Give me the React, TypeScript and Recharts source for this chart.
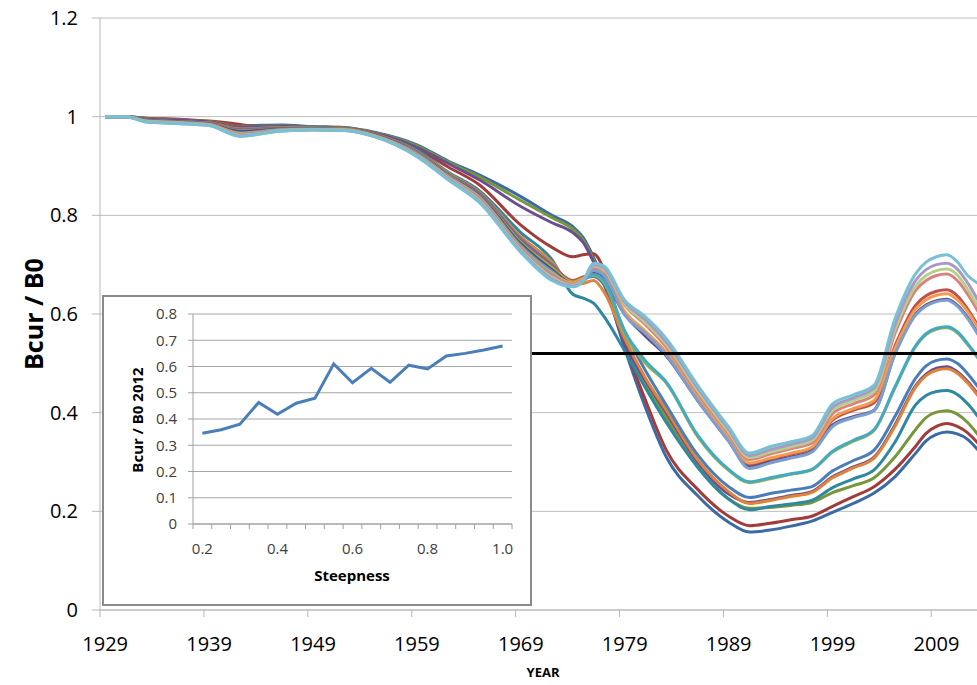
import { CartesianGrid, Line, LineChart, ReferenceLine, XAxis, YAxis } from "recharts";

const FONT = "'Open Sans', 'DejaVu Sans', sans-serif";

const YEARS = [1929, 1931, 1933, 1936, 1939, 1942, 1946, 1949, 1952, 1955, 1959, 1962, 1965, 1969, 1972, 1974, 1975, 1976, 1977, 1979, 1981, 1983, 1986, 1989, 1991, 1993, 1995, 1997, 1999, 2001, 2003, 2005, 2007, 2008, 2009, 2010, 2011, 2012, 2013];

// Bcur / B0 trajectories, one per steepness value
const H020 = [1, 1, 0.996, 0.994, 0.99, 0.982, 0.983, 0.98, 0.978, 0.968, 0.943, 0.91, 0.882, 0.838, 0.8, 0.777, 0.755, 0.715, 0.665, 0.53, 0.41, 0.31, 0.232, 0.178, 0.158, 0.162, 0.17, 0.18, 0.198, 0.216, 0.237, 0.27, 0.318, 0.343, 0.356, 0.361, 0.357, 0.346, 0.324];
const H025 = [1, 1, 0.997, 0.995, 0.991, 0.984, 0.972, 0.978, 0.977, 0.966, 0.935, 0.898, 0.862, 0.78, 0.735, 0.716, 0.72, 0.722, 0.69, 0.54, 0.425, 0.324, 0.245, 0.19, 0.171, 0.176, 0.183, 0.19, 0.21, 0.23, 0.25, 0.285, 0.332, 0.358, 0.372, 0.378, 0.372, 0.359, 0.338];
const H030 = [1, 1, 0.996, 0.993, 0.99, 0.98, 0.981, 0.979, 0.977, 0.967, 0.941, 0.908, 0.878, 0.83, 0.795, 0.772, 0.75, 0.71, 0.665, 0.545, 0.46, 0.39, 0.29, 0.225, 0.206, 0.208, 0.212, 0.218, 0.238, 0.252, 0.268, 0.31, 0.366, 0.39, 0.401, 0.404, 0.397, 0.38, 0.355];
const H035 = [1, 1, 0.995, 0.993, 0.989, 0.979, 0.98, 0.978, 0.976, 0.966, 0.938, 0.905, 0.872, 0.818, 0.785, 0.765, 0.745, 0.705, 0.66, 0.54, 0.465, 0.4, 0.3, 0.235, 0.218, 0.224, 0.232, 0.24, 0.27, 0.29, 0.31, 0.375, 0.455, 0.478, 0.49, 0.493, 0.483, 0.463, 0.437];
const H040 = [1, 1, 0.993, 0.99, 0.987, 0.975, 0.978, 0.977, 0.975, 0.964, 0.932, 0.888, 0.85, 0.765, 0.71, 0.64, 0.632, 0.622, 0.595, 0.525, 0.45, 0.38, 0.29, 0.225, 0.203, 0.21, 0.215, 0.222, 0.248, 0.266, 0.284, 0.34, 0.416, 0.435, 0.443, 0.445, 0.437, 0.418, 0.392];
const H045 = [1, 1, 0.993, 0.99, 0.987, 0.975, 0.978, 0.977, 0.975, 0.964, 0.93, 0.886, 0.847, 0.757, 0.705, 0.66, 0.662, 0.668, 0.645, 0.55, 0.47, 0.405, 0.305, 0.24, 0.216, 0.222, 0.23, 0.238, 0.268, 0.288, 0.308, 0.372, 0.452, 0.475, 0.486, 0.489, 0.48, 0.46, 0.434];
const H050 = [1, 1, 0.993, 0.99, 0.986, 0.974, 0.977, 0.976, 0.974, 0.963, 0.929, 0.884, 0.845, 0.752, 0.7, 0.665, 0.672, 0.676, 0.66, 0.565, 0.485, 0.415, 0.315, 0.25, 0.228, 0.236, 0.243, 0.25, 0.282, 0.303, 0.324, 0.392, 0.47, 0.495, 0.506, 0.509, 0.5, 0.479, 0.452];
const H055 = [1, 1, 0.992, 0.989, 0.986, 0.972, 0.976, 0.976, 0.974, 0.963, 0.928, 0.882, 0.843, 0.748, 0.697, 0.668, 0.675, 0.682, 0.668, 0.6, 0.56, 0.52, 0.428, 0.345, 0.295, 0.305, 0.316, 0.328, 0.385, 0.405, 0.42, 0.535, 0.618, 0.637, 0.646, 0.649, 0.637, 0.61, 0.576];
const H060 = [1, 1, 0.992, 0.989, 0.985, 0.971, 0.975, 0.975, 0.974, 0.962, 0.927, 0.881, 0.841, 0.745, 0.694, 0.665, 0.672, 0.678, 0.665, 0.56, 0.5, 0.46, 0.352, 0.283, 0.258, 0.266, 0.275, 0.284, 0.32, 0.342, 0.364, 0.45, 0.534, 0.558, 0.569, 0.572, 0.562, 0.538, 0.51];
const H065 = [1, 1, 0.992, 0.989, 0.985, 0.97, 0.975, 0.975, 0.973, 0.962, 0.926, 0.88, 0.84, 0.742, 0.69, 0.662, 0.67, 0.682, 0.672, 0.6, 0.555, 0.515, 0.425, 0.343, 0.29, 0.3, 0.31, 0.322, 0.375, 0.392, 0.405, 0.52, 0.6, 0.618, 0.627, 0.63, 0.618, 0.593, 0.56];
const H070 = [1, 1, 0.991, 0.988, 0.984, 0.967, 0.974, 0.975, 0.973, 0.961, 0.925, 0.879, 0.838, 0.738, 0.686, 0.66, 0.668, 0.68, 0.668, 0.565, 0.505, 0.462, 0.355, 0.285, 0.26, 0.268, 0.276, 0.285, 0.322, 0.344, 0.366, 0.452, 0.536, 0.56, 0.571, 0.574, 0.564, 0.54, 0.512];
const H075 = [1, 1, 0.991, 0.988, 0.984, 0.966, 0.973, 0.974, 0.973, 0.961, 0.924, 0.878, 0.836, 0.735, 0.683, 0.663, 0.672, 0.69, 0.68, 0.605, 0.565, 0.523, 0.432, 0.348, 0.298, 0.308, 0.318, 0.33, 0.388, 0.408, 0.425, 0.53, 0.61, 0.629, 0.638, 0.641, 0.629, 0.605, 0.572];
const H080 = [1, 1, 0.99, 0.987, 0.983, 0.964, 0.973, 0.974, 0.973, 0.96, 0.923, 0.877, 0.834, 0.733, 0.68, 0.66, 0.668, 0.688, 0.678, 0.598, 0.56, 0.517, 0.425, 0.342, 0.287, 0.298, 0.308, 0.32, 0.372, 0.39, 0.404, 0.518, 0.598, 0.616, 0.625, 0.628, 0.616, 0.591, 0.558];
const H085 = [1, 1, 0.99, 0.987, 0.983, 0.963, 0.972, 0.974, 0.973, 0.96, 0.922, 0.876, 0.832, 0.731, 0.677, 0.66, 0.67, 0.695, 0.688, 0.618, 0.578, 0.533, 0.44, 0.357, 0.305, 0.316, 0.327, 0.338, 0.398, 0.418, 0.436, 0.56, 0.648, 0.668, 0.678, 0.681, 0.668, 0.64, 0.605];
const H090 = [1, 1, 0.99, 0.987, 0.983, 0.962, 0.972, 0.974, 0.973, 0.96, 0.921, 0.875, 0.83, 0.729, 0.674, 0.658, 0.669, 0.698, 0.69, 0.62, 0.582, 0.538, 0.445, 0.361, 0.309, 0.32, 0.331, 0.343, 0.405, 0.425, 0.443, 0.568, 0.657, 0.678, 0.688, 0.691, 0.679, 0.65, 0.615];
const H095 = [1, 1, 0.989, 0.986, 0.982, 0.961, 0.971, 0.973, 0.972, 0.959, 0.92, 0.874, 0.828, 0.727, 0.671, 0.657, 0.668, 0.7, 0.693, 0.624, 0.588, 0.543, 0.45, 0.366, 0.313, 0.325, 0.336, 0.348, 0.411, 0.43, 0.45, 0.578, 0.668, 0.69, 0.7, 0.703, 0.691, 0.663, 0.628];
const H100 = [1, 1, 0.989, 0.986, 0.982, 0.96, 0.971, 0.973, 0.972, 0.959, 0.919, 0.872, 0.826, 0.725, 0.668, 0.655, 0.667, 0.703, 0.697, 0.628, 0.594, 0.55, 0.456, 0.371, 0.318, 0.331, 0.341, 0.353, 0.418, 0.436, 0.456, 0.59, 0.682, 0.705, 0.716, 0.72, 0.706, 0.678, 0.662];

const SERIES = [
  { key: "h020", values: H020, color: "#3B6BA5" },
  { key: "h025", values: H025, color: "#A23C3A" },
  { key: "h030", values: H030, color: "#77973A" },
  { key: "h035", values: H035, color: "#6A4F8E" },
  { key: "h040", values: H040, color: "#2F889F" },
  { key: "h045", values: H045, color: "#E0823A" },
  { key: "h050", values: H050, color: "#4A7EBB" },
  { key: "h055", values: H055, color: "#C0504D" },
  { key: "h060", values: H060, color: "#93B552" },
  { key: "h065", values: H065, color: "#5E4A80" },
  { key: "h070", values: H070, color: "#45A9C2" },
  { key: "h075", values: H075, color: "#F59A4C" },
  { key: "h080", values: H080, color: "#7C9FD0" },
  { key: "h085", values: H085, color: "#D98380" },
  { key: "h090", values: H090, color: "#B4CF88" },
  { key: "h095", values: H095, color: "#A999C6" },
  { key: "h100", values: H100, color: "#78C1D5" },
];

const YEAR_TICKS = [1929, 1939, 1949, 1959, 1969, 1979, 1989, 1999, 2009];
const B_TICKS = [0, 0.2, 0.4, 0.6, 0.8, 1, 1.2];
const TARGET = 0.52;

// inset: Bcur / B0 in 2012 against steepness
const STEEPNESS = [0.2, 0.25, 0.3, 0.35, 0.4, 0.45, 0.5, 0.55, 0.6, 0.65, 0.7, 0.75, 0.8, 0.85, 0.9, 0.95, 1.0];
const BCUR_2012 = [0.346, 0.359, 0.38, 0.463, 0.418, 0.46, 0.479, 0.61, 0.538, 0.593, 0.54, 0.605, 0.591, 0.64, 0.65, 0.663, 0.678];
const INSET_TICKS = [0, 0.1, 0.2, 0.3, 0.4, 0.5, 0.6, 0.7, 0.8];
const INSET_LABELS = ["0.2", "0.4", "0.6", "0.8", "1.0"];

const rows = YEARS.map((year, i) => {
  const r: Record<string, number> = { year };
  SERIES.forEach((s) => (r[s.key] = s.values[i]));
  return r;
});

const insetRows = STEEPNESS.map((h, i) => ({ h, v: BCUR_2012[i] }));
const insetBounds = [...STEEPNESS.map((h) => h - 0.025), 1.025];

const AXIS = "#b8b8b8";
const GRID = "#bdbdbd";

function YearTick({ x, y, payload }: any) {
  return (
    <g>
      <line x1={x - 5.2} x2={x - 5.2} y1={y} y2={y + 7} stroke={AXIS} />
      <text x={x} y={y + 41} textAnchor="middle" fontSize={20} fill="#000" fontFamily={FONT}>
        {payload.value}
      </text>
    </g>
  );
}

function SteepTick({ x, y, index }: any) {
  const label = index % 4 === 0 ? INSET_LABELS[index / 4] : null;
  return (
    <g>
      <line x1={x} x2={x} y1={y} y2={y + 5} stroke="#a0a0a0" />
      {label && (
        <text x={x + 9.4} y={y + 30} textAnchor="middle" fontSize={15} fill="#404040" fontFamily={FONT}>
          {label}
        </text>
      )}
    </g>
  );
}

const title = (left: number, top: number, size: number, rotate = false): React.CSSProperties => ({
  position: "absolute",
  left,
  top,
  transform: `translate(-50%, -50%)${rotate ? " rotate(-90deg)" : ""}`,
  fontFamily: FONT,
  fontWeight: 700,
  fontSize: size,
  whiteSpace: "nowrap",
  color: "#000",
});

export default function App() {
  return (
    <div style={{ position: "absolute", left: 0, top: 0, width: 977, height: 685, background: "#fff", overflow: "hidden" }}>
      <LineChart width={977} height={685} data={rows} margin={{ top: 18, right: 0, bottom: 0, left: 0 }}>
        <CartesianGrid vertical={false} stroke={GRID} />
        <XAxis
          dataKey="year"
          type="number"
          domain={[1928.5, 2012.9]}
          allowDataOverflow
          ticks={YEAR_TICKS}
          interval={0}
          tickSize={0}
          tickMargin={0}
          tick={<YearTick />}
          axisLine={{ stroke: AXIS }}
          height={75}
        />
        <YAxis
          domain={[0, 1.2]}
          ticks={B_TICKS}
          interval={0}
          width={100}
          tickSize={8}
          tickMargin={14}
          axisLine={{ stroke: AXIS }}
          tickLine={{ stroke: AXIS }}
          tick={{ fontSize: 20, fill: "#000", fontFamily: FONT }}
        />
        {SERIES.map((s) => (
          <Line
            key={s.key}
            type="monotone"
            dataKey={s.key}
            stroke={s.color}
            strokeWidth={3}
            dot={false}
            isAnimationActive={false}
          />
        ))}
        <ReferenceLine
          segment={[
            { x: 1945, y: TARGET },
            { x: 2012.9, y: TARGET },
          ]}
          stroke="#000"
          strokeWidth={3}
        />
      </LineChart>

      <div style={title(33, 314, 25, true)}>Bcur / B0</div>
      <div style={title(543, 672, 13)}>YEAR</div>

      <div
        style={{
          position: "absolute",
          left: 102,
          top: 295,
          width: 430,
          height: 311,
          boxSizing: "border-box",
          border: "2px solid #8a8a8a",
          background: "#fff",
        }}
      >
        <LineChart width={426} height={307} data={insetRows} margin={{ top: 17, right: 18, bottom: 0, left: 0 }}>
          <CartesianGrid vertical={false} stroke="#a6a6a6" />
          <XAxis
            dataKey="h"
            type="number"
            domain={[0.175, 1.025]}
            ticks={insetBounds}
            interval={0}
            tickSize={0}
            tickMargin={0}
            tick={<SteepTick />}
            axisLine={{ stroke: "#a0a0a0" }}
            height={80}
          />
          <YAxis
            domain={[0, 0.8]}
            ticks={INSET_TICKS}
            interval={0}
            width={89}
            tickSize={5}
            tickMargin={11}
            axisLine={{ stroke: "#a0a0a0" }}
            tickLine={{ stroke: "#a0a0a0" }}
            tick={{ fontSize: 15, fill: "#404040", fontFamily: FONT }}
          />
          <Line type="linear" dataKey="v" stroke="#4A7EBB" strokeWidth={3} dot={false} isAnimationActive={false} />
        </LineChart>
      </div>
      <div style={title(137, 420, 15, true)}>Bcur / B0 2012</div>
      <div style={title(352, 575, 15)}>Steepness</div>
    </div>
  );
}
